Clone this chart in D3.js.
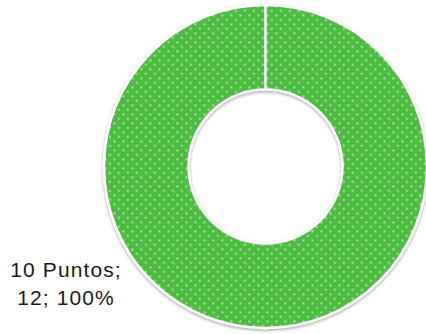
<!DOCTYPE html>
<html><head><meta charset="utf-8">
<script src="https://cdn.jsdelivr.net/npm/d3@7"></script>
<style>body{margin:0;background:#fff}svg{display:block}</style>
</head><body>
<script>
const categories = ["10 Puntos"];
const values = [12];
const percents = ["100%"];

const W = 426, H = 334;
const cx = 265.5, cy = 166.5, rOuter = 161.5, rInner = 77;

const svg = d3.select("body").append("svg").attr("width", W).attr("height", H);
const defs = svg.append("defs");
const pat = defs.append("pattern").attr("id", "dots").attr("patternUnits", "userSpaceOnUse")
  .attr("width", 9).attr("height", 9);
pat.append("rect").attr("width", 9).attr("height", 9).attr("fill", "#4dbd42");
pat.append("rect").attr("x", 1).attr("y", 1).attr("width", 1.7).attr("height", 1.7).attr("fill", "#d2f2c8");
pat.append("rect").attr("x", 5.5).attr("y", 5.5).attr("width", 1.7).attr("height", 1.7).attr("fill", "#d2f2c8");
const f = defs.append("filter").attr("id", "sh").attr("x", "-10%").attr("y", "-10%").attr("width", "120%").attr("height", "120%");
f.append("feDropShadow").attr("dx", 0).attr("dy", 1.5).attr("stdDeviation", 1.8).attr("flood-color", "#000").attr("flood-opacity", 0.35);

const pie = d3.pie().sort(null)(values);
const arc = d3.arc().innerRadius(rInner).outerRadius(rOuter);
const g = svg.append("g").attr("transform", `translate(${cx},${cy})`);
g.selectAll("path").data(pie).join("path")
  .attr("d", arc).attr("fill", "url(#dots)")
  .attr("stroke", "#fff").attr("stroke-width", 2.5)
  .attr("filter", "url(#sh)");
g.append("line").attr("x1", 0).attr("y1", -rInner).attr("x2", 0).attr("y2", -rOuter - 2)
  .attr("stroke", "#fff").attr("stroke-width", 2.5);

const lab = svg.append("text").attr("font-family", "Liberation Sans, Arial, sans-serif")
  .attr("font-size", 21).attr("letter-spacing", 1.1).attr("fill", "#1a1a1a").attr("text-anchor", "middle");
lab.append("tspan").attr("x", 66).attr("y", 277).text(`${categories[0]};`);
lab.append("tspan").attr("x", 66).attr("y", 305).text(`${values[0]}; ${percents[0]}`);
</script>
</body></html>
